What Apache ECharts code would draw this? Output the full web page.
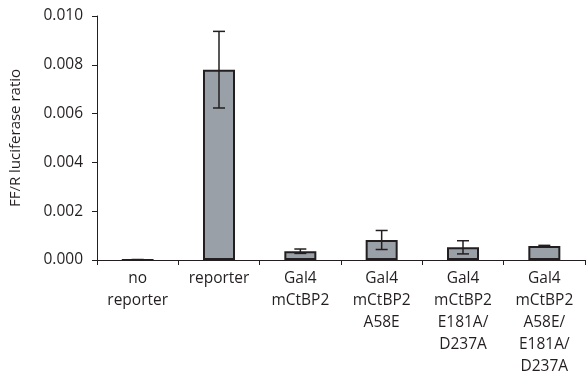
<!DOCTYPE html>
<html><head><meta charset="utf-8">
<script src="https://cdn.jsdelivr.net/npm/echarts@6/dist/echarts.min.js"></script>
<style>html,body{margin:0;padding:0;background:#fff}#c{width:588px;height:378px}</style>
</head><body><div id="c"></div>
<script>
var categories = ['no\nreporter', 'reporter', 'Gal4\nmCtBP2', 'Gal4\nmCtBP2\nA58E', 'Gal4\nmCtBP2\nE181A/\nD237A', 'Gal4\nmCtBP2\nA58E/\nE181A/\nD237A'];
var values = [0.00001, 0.0078, 0.00036, 0.00082, 0.00052, 0.00057];
var errors = [0.00001, 0.00157, 0.00009, 0.00039, 0.00027, 0.00003];
var yTicks = [0, 0.002, 0.004, 0.006, 0.008, 0.010];

var chart = echarts.init(document.getElementById('c'));
var font = '"Open Sans", "Noto Sans", sans-serif';
chart.setOption({
  animation: false,
  grid: { left: 95, right: 3, top: 16, bottom: 117, containLabel: false },
  xAxis: {
    type: 'category', data: categories,
    axisLine: { lineStyle: { color: '#231f20', width: 1 } },
    axisTick: { show: true, length: 5, lineStyle: { color: '#231f20' } },
    axisLabel: { color: '#231f20', fontSize: 15.5, fontFamily: font, lineHeight: 22, margin: 8, interval: 0 }
  },
  yAxis: {
    type: 'value', min: yTicks[0], max: yTicks[yTicks.length - 1], interval: 0.002,
    name: 'FF/R luciferase ratio', nameLocation: 'middle', nameGap: 74,
    nameTextStyle: { color: '#231f20', fontSize: 15, fontFamily: font },
    splitLine: { show: false },
    axisLine: { show: true, lineStyle: { color: '#231f20', width: 1 } },
    axisTick: { show: true, length: 5, lineStyle: { color: '#231f20' } },
    axisLabel: { color: '#231f20', fontSize: 15.5, fontFamily: font, margin: 14,
      formatter: function (v) { return v.toFixed(3); } }
  },
  series: [
    { type: 'bar', data: values, barWidth: 32,
      itemStyle: { color: '#9aa0a7', borderColor: '#231f20', borderWidth: 2 } },
    { type: 'custom', data: values.map(function (v, i) { return [i, v - errors[i], v + errors[i]]; }),
      renderItem: function (params, api) {
        var lo = api.coord([api.value(0), api.value(1)]);
        var hi = api.coord([api.value(0), api.value(2)]);
        var x = lo[0], hw = 6;
        var st = { stroke: '#231f20', lineWidth: 1.5 };
        return { type: 'group', children: [
          { type: 'line', shape: { x1: x, y1: lo[1], x2: x, y2: hi[1] }, style: st },
          { type: 'line', shape: { x1: x - hw, y1: lo[1], x2: x + hw, y2: lo[1] }, style: st },
          { type: 'line', shape: { x1: x - hw, y1: hi[1], x2: x + hw, y2: hi[1] }, style: st }
        ] };
      }, z: 10 }
  ]
});
</script></body></html>
